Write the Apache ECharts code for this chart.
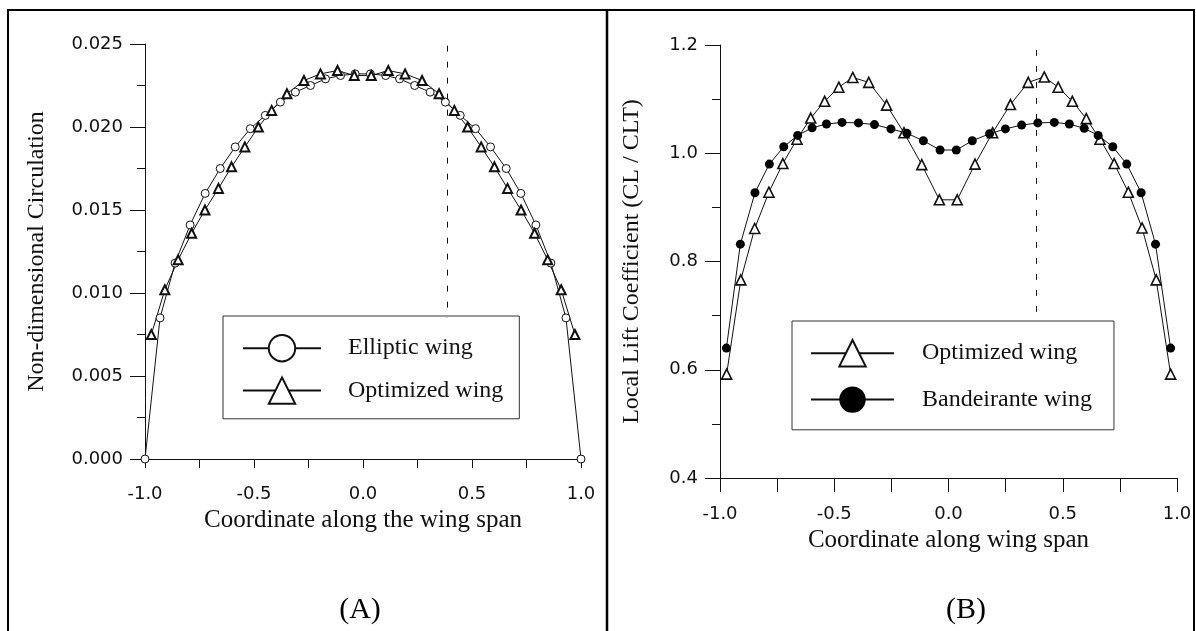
<!DOCTYPE html>
<html>
<head>
<meta charset="utf-8">
<script src="https://cdn.jsdelivr.net/npm/echarts@6/dist/echarts.min.js"></script>
<style>
  html, body { margin: 0; padding: 0; background: #fff; }
  #chart { width: 1196px; height: 631px; }
</style>
</head>
<body>
<div id="chart"></div>
<script>
// span positions
const ellipticX = [-1.0, -0.931, -0.862, -0.793, -0.724, -0.655, -0.586, -0.517, -0.448, -0.379, -0.310, -0.241, -0.172, -0.103, -0.036,
  0.034, 0.104, 0.168, 0.237, 0.308, 0.378, 0.446, 0.516, 0.585, 0.657, 0.724, 0.793, 0.862, 0.931, 1.0];
const ellipticGamma = [0, 0.0085, 0.0118, 0.0141, 0.0160, 0.0175, 0.0188, 0.0199, 0.0207, 0.0215, 0.0221, 0.0225, 0.0229, 0.0231, 0.0232,
  0.0232, 0.0231, 0.0229, 0.0225, 0.0221, 0.0215, 0.0207, 0.0199, 0.0188, 0.0175, 0.0160, 0.0141, 0.0118, 0.0085, 0];

const optimizedX = [-0.971, -0.909, -0.848, -0.786, -0.725, -0.663, -0.603, -0.542, -0.480, -0.419, -0.349, -0.271, -0.195, -0.117, -0.040,
  0.038, 0.116, 0.193, 0.271, 0.349, 0.419, 0.480, 0.542, 0.603, 0.663, 0.725, 0.787, 0.847, 0.909, 0.972];
const optimizedGamma = [0.0075, 0.0102, 0.0120, 0.0136, 0.0150, 0.0163, 0.0176, 0.0188, 0.0200, 0.0210, 0.0220, 0.0228, 0.0232, 0.0234, 0.0231,
  0.0231, 0.0234, 0.0232, 0.0228, 0.0220, 0.0210, 0.0200, 0.0188, 0.0176, 0.0163, 0.0150, 0.0136, 0.0120, 0.0102, 0.0075];
const optimizedLift = [0.592, 0.766, 0.861, 0.928, 0.981, 1.026, 1.065, 1.096, 1.122, 1.140, 1.131, 1.089, 1.038, 0.979, 0.914,
  0.914, 0.980, 1.038, 1.090, 1.131, 1.141, 1.122, 1.096, 1.064, 1.026, 0.981, 0.928, 0.862, 0.766, 0.592];

const bandeiranteX = [-0.972, -0.911, -0.847, -0.784, -0.721, -0.660, -0.597, -0.534, -0.466, -0.394, -0.324, -0.252, -0.182, -0.110, -0.037,
  0.034, 0.104, 0.180, 0.249, 0.320, 0.391, 0.463, 0.529, 0.594, 0.655, 0.719, 0.780, 0.843, 0.906, 0.972];
const bandeiranteLift = [0.640, 0.832, 0.927, 0.980, 1.012, 1.033, 1.047, 1.054, 1.057, 1.056, 1.053, 1.045, 1.037, 1.023, 1.006,
  1.006, 1.023, 1.036, 1.045, 1.052, 1.056, 1.057, 1.054, 1.046, 1.033, 1.012, 0.980, 0.927, 0.832, 0.640];

// dashed reference station
const refStation = 0.385;

const serif = '"Liberation Serif", "Times New Roman", serif';
const sans = '"DejaVu Sans", sans-serif';
const ink = '#111';

function pairs(xs, ys) {
  return xs.map(function (x, i) { return [x, ys[i]]; });
}

function spanAxis(gridIndex, name, nameGap, tickLen, labelMargin) {
  return {
    type: 'value', gridIndex: gridIndex, min: -1, max: 1, interval: 0.25,
    name: name, nameLocation: 'middle', nameGap: nameGap,
    nameTextStyle: { fontFamily: serif, fontSize: 25, color: ink },
    axisLine: { onZero: false, lineStyle: { color: ink, width: 1 } },
    axisTick: { length: tickLen, lineStyle: { color: ink } },
    axisLabel: {
      margin: labelMargin, fontFamily: sans, fontSize: 18, color: ink,
      formatter: function (v) { return Math.abs(v * 2 - Math.round(v * 2)) < 1e-6 ? v.toFixed(1) : ''; }
    },
    splitLine: { show: false }
  };
}

function valueAxis(gridIndex, name, nameGap, min, max, interval, digits) {
  return {
    type: 'value', gridIndex: gridIndex, min: min, max: max, interval: interval,
    name: name, nameLocation: 'middle', nameGap: nameGap,
    nameTextStyle: { fontFamily: serif, fontSize: 24, color: ink },
    axisLine: { show: true, onZero: false, lineStyle: { color: ink, width: 1 } },
    axisTick: { show: true, length: 15, lineStyle: { color: ink } },
    minorTick: { show: true, splitNumber: 2, length: 8, lineStyle: { color: ink } },
    axisLabel: {
      margin: 22, fontFamily: sans, fontSize: 18, color: ink,
      formatter: function (v) { return v.toFixed(digits); }
    },
    splitLine: { show: false },
    minorSplitLine: { show: false }
  };
}

function legendBox(left, top, names, padding, itemWidth, itemGap, textPad) {
  return {
    orient: 'vertical', left: left, top: top,
    data: names,
    padding: padding,
    itemWidth: itemWidth, itemHeight: 33, itemGap: itemGap,
    backgroundColor: '#fff', borderColor: '#333', borderWidth: 1, borderRadius: 0,
    selectedMode: false,
    textStyle: { fontFamily: serif, fontSize: 24, color: ink, padding: [0, 0, 0, textPad] }
  };
}

const chart = echarts.init(document.getElementById('chart'));

const option = {
  animation: false,
  backgroundColor: '#fff',
  grid: [
    { left: 145, right: 615, top: 44, bottom: 172 },
    { left: 720, right: 19, top: 45, bottom: 153 }
  ],
  xAxis: [
    spanAxis(0, 'Coordinate along the wing span', 37, 9, 26),
    spanAxis(1, 'Coordinate along wing span', 48, 14, 27)
  ],
  yAxis: [
    valueAxis(0, 'Non-dimensional Circulation', 96, 0, 0.025, 0.005, 3),
    valueAxis(1, 'Local Lift Coefficient (CL / CLT)', 76, 0.4, 1.2, 0.2, 1)
  ],
  legend: [
    legendBox(223, 316, ['Elliptic wing', 'Optimized wing'], [18, 16, 14, 19], 78, 14, 22),
    legendBox(792, 321, ['Optimized wing', 'Bandeirante wing'], [18, 22, 17, 18], 83, 19, 23)
  ],
  series: [
    {
      name: 'Elliptic wing', type: 'line', xAxisIndex: 0, yAxisIndex: 0,
      data: pairs(ellipticX, ellipticGamma),
      symbol: 'circle', symbolSize: 8, showAllSymbol: true,
      lineStyle: { color: ink, width: 1 },
      itemStyle: { color: '#fff', borderColor: ink, borderWidth: 1 },
      markLine: {
        silent: true, symbol: 'none', label: { show: false },
        lineStyle: { color: ink, width: 1, type: [6, 10] },
        data: [[{ coord: [refStation, 0.0249] }, { coord: [refStation, 0.0085] }]]
      }
    },
    {
      name: 'Optimized wing', type: 'line', xAxisIndex: 0, yAxisIndex: 0,
      data: pairs(optimizedX, optimizedGamma),
      symbol: 'triangle', symbolSize: 9, showAllSymbol: true,
      lineStyle: { color: ink, width: 1 },
      itemStyle: { color: '#fff', borderColor: ink, borderWidth: 2 }
    },
    {
      name: 'Optimized wing', type: 'line', xAxisIndex: 1, yAxisIndex: 1,
      data: pairs(optimizedX, optimizedLift),
      symbol: 'triangle', symbolSize: 10, showAllSymbol: true,
      lineStyle: { color: ink, width: 1 },
      itemStyle: { color: '#fff', borderColor: ink, borderWidth: 1.6 },
      markLine: {
        silent: true, symbol: 'none', label: { show: false },
        lineStyle: { color: ink, width: 1, type: [6, 10] },
        data: [[{ coord: [refStation, 1.191] }, { coord: [refStation, 0.69] }]]
      }
    },
    {
      name: 'Bandeirante wing', type: 'line', xAxisIndex: 1, yAxisIndex: 1,
      data: pairs(bandeiranteX, bandeiranteLift),
      symbol: 'circle', symbolSize: 9, showAllSymbol: true,
      lineStyle: { color: ink, width: 1 },
      itemStyle: { color: '#000', borderColor: '#000', borderWidth: 0 }
    }
  ],
  graphic: [
    { type: 'polyline', shape: { points: [[8, 631], [8, 10], [1194, 10], [1194, 631]] },
      style: { stroke: '#000', lineWidth: 2, fill: null }, silent: true },
    { type: 'line', shape: { x1: 607, y1: 10, x2: 607, y2: 631 },
      style: { stroke: '#000', lineWidth: 2.5 }, silent: true },
    { type: 'text', x: 360, y: 610, silent: true,
      style: { text: '(A)', fill: '#000', fontFamily: serif, fontSize: 30, align: 'center', verticalAlign: 'middle' } },
    { type: 'text', x: 966, y: 610, silent: true,
      style: { text: '(B)', fill: '#000', fontFamily: serif, fontSize: 30, align: 'center', verticalAlign: 'middle' } }
  ]
};

chart.setOption(option);
</script>
</body>
</html>
